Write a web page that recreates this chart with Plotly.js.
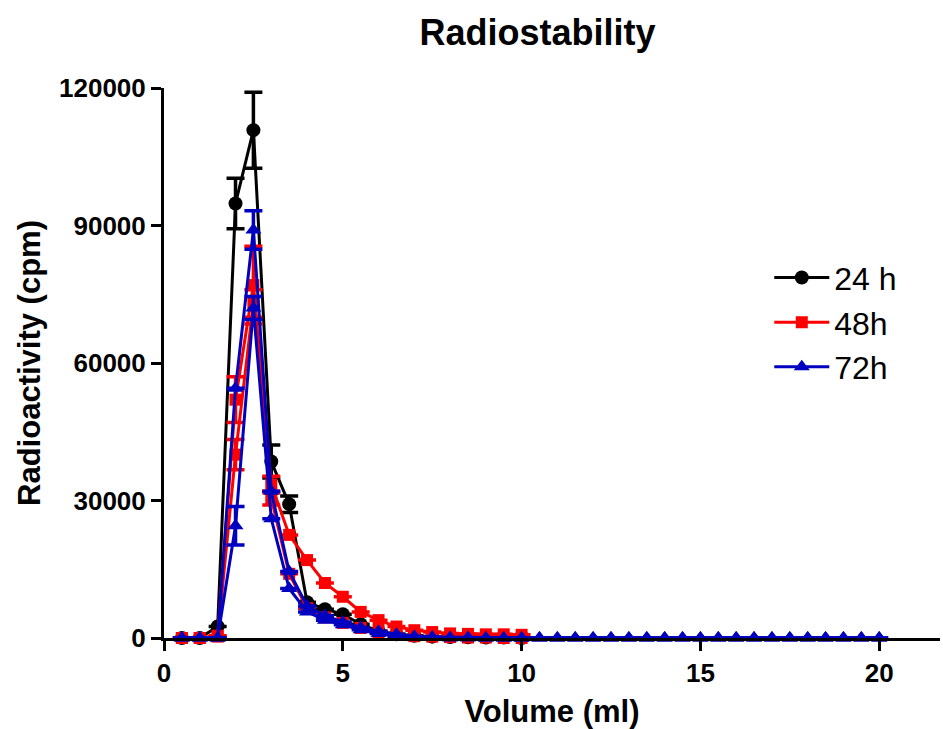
<!DOCTYPE html>
<html>
<head>
<meta charset="utf-8">
<script src="https://cdn.plot.ly/plotly-3.0.1.min.js"></script>
<style>html,body{margin:0;padding:0;background:#fff;}#chart{width:943px;height:729px;}</style>
</head>
<body>
<div id="chart"></div>
<script>
// Volume (ml)
const vol24 = [0.5,1,1.5,2,2.5,3,3.5,4,4.5,5,5.5,6,6.5,7,7.5,8,8.5,9,9.5,10];
const vol48 = [0.5,1,1.5,2,2.5,3,3.5,4,4.5,5,5.5,6,6.5,7,7.5,8,8.5,9,9.5,10];
const vol72 = [0.5,1,1.5,2,2.5,3,3.5,4,4.5,5,5.5,6,6.5,7,7.5,8,8.5,9,9.5,10,
               10.5,11,11.5,12,12.5,13,13.5,14,14.5,15,15.5,16,16.5,17,17.5,18,18.5,19,19.5,20];

// 24 h
const cpm24 = [0,0,2500,94800,110800,38500,29200,7800,6300,5200,3000,1500,800,500,300,200,150,100,100,0];
const err24 = [0,0,0,5500,8300,3600,1800,0,0,0,0,0,0,0,0,0,0,0,0,0];

// 48 h (two curves)
const cpm48a = [0,0,500,52000,77000,33500,22500,17000,12000,9000,5700,3900,2500,1700,1300,1000,900,800,800,700];
const err48a = [0,0,0,5000,8500,1800,0,0,0,0,0,0,0,0,0,0,0,0,0,0];
const cpm48b = [0,0,300,40000,73000,30500,14000,6500,4500,3300,2200,1300,700,400,300,200,100,100,0,0];
const err48b = [0,0,0,3300,3000,1500,0,0,0,0,0,0,0,0,0,0,0,0,0,0];

// 72 h (two curves)
const cpm72a = [0,0,0,54500,89000,32000,14500,7000,4900,3500,2300,1500,800,400,200,100,100,0,0,0,
                0,0,0,0,0,0,0,0,0,0,0,0,0,0,0,0,0,0,0,0];
const err72a = [0,0,0,0,4200,0,0,0,0,0,0,0,0,0,0,0,0,0,0,0,
                0,0,0,0,0,0,0,0,0,0,0,0,0,0,0,0,0,0,0,0];
const cpm72b = [0,0,0,24500,72000,26000,10800,5700,3900,2900,1800,1000,400,200,100,0,0,0,0,0,
                0,0,0,0,0,0,0,0,0,0,0,0,0,0,0,0,0,0,0,0];
const err72b = [0,0,0,4200,2500,0,0,0,0,0,0,0,0,0,0,0,0,0,0,0,
                0,0,0,0,0,0,0,0,0,0,0,0,0,0,0,0,0,0,0,0];

function tr(x, y, e, color, symbol, size, name, show) {
  return {
    x: x, y: y, type: 'scatter', mode: 'lines+markers', name: name,
    showlegend: show, legendgroup: name,
    line: {color: color, width: 3},
    marker: {color: color, symbol: symbol, size: size},
    error_y: {type: 'data', array: e, visible: true, color: color, thickness: 3.5, width: 9},
    cliponaxis: false
  };
}

const data = [
  tr(vol24, cpm24, err24, '#000000', 'circle', 14, '24 h', true),
  tr(vol48, cpm48b, err48b, '#ff0000', 'square', 12, '48h', false),
  tr(vol48, cpm48a, err48a, '#ff0000', 'square', 12, '48h', true),
  tr(vol72, cpm72b, err72b, '#0000c0', 'triangle-up', 14, '72h', false),
  tr(vol72, cpm72a, err72a, '#0000c0', 'triangle-up', 14, '72h', true)
];

const FAM = 'Liberation Sans, Arial, sans-serif';
const tickFont = {family: FAM, size: 26, color: '#000', weight: 'bold'};
const layout = {
  width: 943, height: 729,
  margin: {l: 164, r: 3, t: 88, b: 91},
  paper_bgcolor: '#fff', plot_bgcolor: '#fff',
  title: {text: '<b>Radiostability</b>', x: 0.57, xanchor: 'center', y: 0.955, yanchor: 'middle',
          font: {family: FAM, size: 36, color: '#000'}},
  xaxis: {
    range: [0, 21.7], tickvals: [0, 5, 10, 15, 20], ticktext: ['0','5','10','15','20'],
    showgrid: false, zeroline: false, showline: true, linecolor: '#000', linewidth: 3,
    ticks: 'outside', ticklen: 10, tickwidth: 3, tickcolor: '#000',
    tickfont: tickFont,
    title: {text: '<b>Volume (ml)</b>', standoff: 14, font: {family: FAM, size: 31, color: '#000'}}
  },
  yaxis: {
    range: [0, 120000], tickvals: [0, 30000, 60000, 90000, 120000],
    ticktext: ['0','30000','60000','90000','120000'],
    showgrid: false, zeroline: false, showline: true, linecolor: '#000', linewidth: 3,
    ticks: 'outside', ticklen: 10, tickwidth: 3, tickcolor: '#000',
    tickfont: tickFont,
    title: {text: '<b>Radioactivity (cpm)</b>', standoff: 10, font: {family: FAM, size: 31, color: '#000'}}
  },
  legend: {
    x: 0.78, y: 0.705, xanchor: 'left', yanchor: 'top',
    bgcolor: 'rgba(0,0,0,0)', tracegroupgap: 0, itemwidth: 55,
    font: {family: FAM, size: 32, color: '#000'}
  },
  showlegend: true
};

Plotly.newPlot('chart', data, layout, {displayModeBar: false, staticPlot: true});
</script>
</body>
</html>
